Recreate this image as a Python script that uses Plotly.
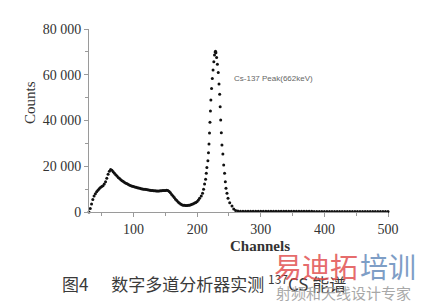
import plotly.graph_objects as go

# ---- data ----
# low-energy region (Compton continuum), channel / counts
low_ch = [30, 32, 34, 36, 38, 40, 42, 44, 46, 48, 50, 52, 54, 56, 58, 60, 62, 64, 66, 68,
          70, 72, 74, 76, 78, 80, 82, 84, 86, 88, 90, 92, 94, 96, 98, 100, 102, 104, 106, 108,
          110, 112, 114, 116, 118, 120, 122, 124, 126, 128, 130, 132, 134, 136, 138, 140, 142, 144, 146, 148,
          150, 152, 154, 156, 158, 160, 162, 164, 166, 168, 170, 172, 174, 176, 178, 180, 182, 184, 186, 188,
          190, 192, 194, 196, 198, 200, 202]
low_counts = [0, 1500, 3500, 5500, 7000, 8000, 8800, 9500, 10200, 10700, 11100, 11500, 12200, 13200, 14800, 16500, 17800, 18600, 18300, 17600,
              16900, 16300, 15700, 15100, 14600, 14100, 13700, 13300, 12900, 12600, 12300, 12000, 11700, 11500, 11300, 11100, 10950, 10800, 10650, 10500,
              10350, 10200, 10100, 10000, 9900, 9800, 9700, 9600, 9500, 9400, 9350, 9300, 9250, 9200, 9200, 9200, 9250, 9300, 9350, 9400,
              9450, 9500, 9400, 9000, 8400, 7700, 7000, 6300, 5600, 5000, 4400, 3900, 3500, 3200, 3000, 2900, 2850, 2850, 2900, 3000,
              3150, 3350, 3600, 3900, 4200, 4600, 5200]

# Cs-137 photopeak
peak_ch = [203.8, 206.5, 208.5, 210.1, 211.7, 213.3, 214.4, 215.3, 216.9, 217.8, 218.6, 219.4, 220.1, 220.9, 221.6,
           222.7, 223.8, 225.0, 226.2, 227.3, 228.3, 228.9, 229.5,
           230.6, 231.8, 233.2, 234.4, 235.4, 236.2, 237.0, 238.0, 239.0, 240.4, 241.7, 243.1, 244.3, 245.3,
           246.9, 248.5, 251.2, 254.8, 257.5, 260.5, 264.0]
peak_counts = [6000, 7000, 8200, 9900, 12200, 14300, 16900, 19500, 22400, 25900, 29700, 34500, 39200, 44100, 49000,
               54000, 58400, 62100, 65700, 68600, 70000, 70300, 69600,
               67500, 64600, 61000, 56000, 51500, 46000, 40200, 34600, 29300, 25400, 20500, 16900, 13200, 10400,
               8200, 6000, 4000, 2600, 1300, 700, 400]

# flat tail
tail_ch = list(range(268, 501, 4))
tail_counts = [380, 360, 350, 340, 340, 330, 330, 320, 320, 320, 310, 310, 310, 300, 300, 300, 300, 300, 290, 290,
               290, 290, 290, 280, 280, 280, 280, 280, 280, 270, 270, 270, 270, 270, 270, 270, 260, 260, 260, 260,
               260, 260, 260, 260, 250, 250, 250, 250, 250, 250, 250, 250, 250, 250, 250, 250, 250, 250, 250]

y_tickvals = [0, 20000, 40000, 60000, 80000]
y_ticktext = ["0", "20 000", "40 000", "60 000", "80 000"]
x_tickvals = [100, 200, 300, 400, 500]
x_ticktext = ["100", "200", "300", "400", "500"]

peak_label = "Cs-137 Peak(662keV)"
x_title = "Channels"
y_title = "Counts"
caption = "图4&nbsp;&nbsp;&nbsp;&nbsp;&nbsp;&nbsp;数字多道分析器实测 <sup>137</sup>CS 能谱"
wm_red = "易迪拓"
wm_blue = "培训"
wm_sub = "射频和天线设计专家"

ch = low_ch + peak_ch + tail_ch
counts = low_counts + peak_counts + tail_counts

serif = "Liberation Serif, Times New Roman, serif"
cjk = "Noto Sans CJK SC, sans-serif"

fig = go.Figure()
fig.add_trace(go.Scatter(
    x=ch, y=counts, mode="markers",
    marker=dict(color="#111111", size=3, line=dict(width=0)),
    cliponaxis=False, showlegend=False, hoverinfo="skip",
))

axis_common = dict(
    showgrid=False, zeroline=False, showline=True, linecolor="#9a9a9a", linewidth=1,
    ticks="outside", ticklen=4, tickcolor="#9a9a9a", tickwidth=1,
    tickfont=dict(family=serif, size=14, color="#333333"),
)

fig.update_xaxes(range=[30, 500], tickvals=x_tickvals, ticktext=x_ticktext,
                 minor=dict(tickvals=[50, 150, 250, 350, 450], ticks="outside", ticklen=3, tickcolor="#9a9a9a"),
                 **axis_common)
fig.update_yaxes(range=[0, 80000], tickvals=y_tickvals, ticktext=y_ticktext,
                 minor=dict(tickvals=[10000, 30000, 50000, 70000], ticks="outside", ticklen=3, tickcolor="#9a9a9a"),
                 **axis_common)


def ann(text, x, y, xanchor="center", size=14, family=serif, color="#333333", angle=0, opacity=1.0):
    return dict(text=text, x=x, y=y, xref="paper", yref="paper", xanchor=xanchor, yanchor="middle",
                showarrow=False, textangle=angle, opacity=opacity,
                font=dict(family=family, size=size, color=color))


fig.update_layout(
    width=424, height=304,
    margin=dict(l=89, r=36, t=29, b=92),
    paper_bgcolor="white", plot_bgcolor="white",
    annotations=[
        ann(peak_label, 232, 78, xanchor="left", size=8,
            family="Liberation Sans, Arial, sans-serif", color="#666666"),
        ann(y_title, 30, 103, size=15, angle=-90),
        ann("<b>" + x_title + "</b>", 260, 246, size=15),
        ann(caption, 60, 283, xanchor="left", size=17, family=cjk, color="#3a3a3a"),
        ann(wm_red, 272, 266, xanchor="left", size=28, family=cjk, color="#e04848", opacity=0.8),
        ann(wm_blue, 358, 266, xanchor="left", size=28, family=cjk, color="#5f86b8", opacity=0.8),
        ann(wm_sub, 274, 292, xanchor="left", size=15, family=cjk, color="#9a9a9a", opacity=0.85),
    ],
)

# convert pixel positions of annotations to paper coordinates
W, H = 424, 304
L, R, T, B = 89, 36, 29, 92
pw, ph = W - L - R, H - T - B
new_ann = []
for a in fig.layout.annotations:
    a.x = (a.x - L) / pw
    a.y = 1 - (a.y - T) / ph
    new_ann.append(a)
fig.layout.annotations = new_ann

fig.write_html("out.html")
